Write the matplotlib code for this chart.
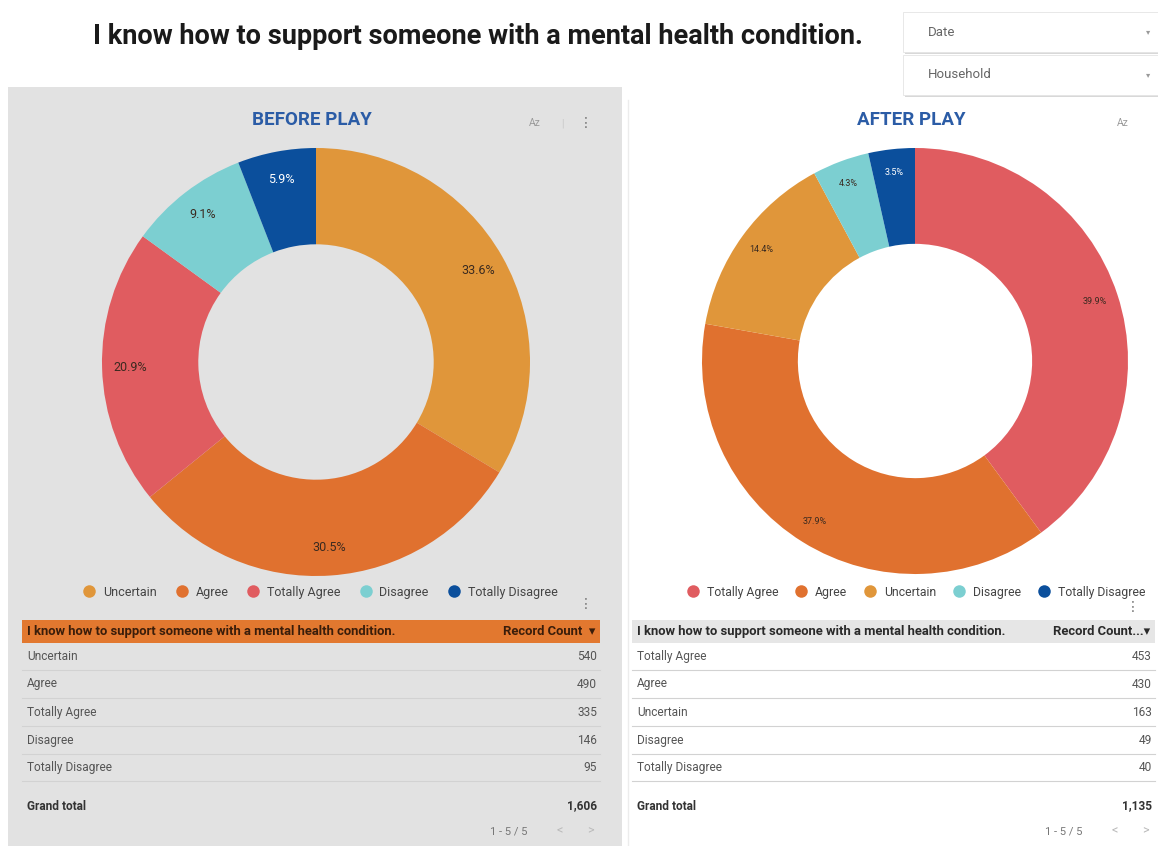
import matplotlib
matplotlib.use("Agg")
import matplotlib.pyplot as plt
from matplotlib.patches import Rectangle
from matplotlib.lines import Line2D

plt.rcParams['font.family'] = ['Roboto', 'DejaVu Sans']

W, H = 1158, 846

question = "I know how to support someone with a mental health condition."

before_labels = ["Uncertain", "Agree", "Totally Agree", "Disagree", "Totally Disagree"]
before_counts = [540, 490, 335, 146, 95]

after_labels = ["Totally Agree", "Agree", "Uncertain", "Disagree", "Totally Disagree"]
after_counts = [453, 430, 163, 49, 40]

colors = {
    "Uncertain": "#e0963a",
    "Agree": "#e0712f",
    "Totally Agree": "#e05c60",
    "Disagree": "#7ccfd1",
    "Totally Disagree": "#0b4f9c",
}


def fx(x):
    return x / W


def fy(y):
    return 1 - y / H


def ptext(x, y, s, **kw):
    kw.setdefault("va", "center")
    fig.text(fx(x), fy(y), s, **kw)


def hline(x0, x1, y, color="#d2d2d2", lw=0.8):
    fig.add_artist(Line2D([fx(x0), fx(x1)], [fy(y), fy(y)], color=color, lw=lw,
                          transform=fig.transFigure))


def prect(x0, y0, x1, y1, **kw):
    fig.add_artist(Rectangle((fx(x0), fy(y1)), fx(x1) - fx(x0), fy(y0) - fy(y1),
                             transform=fig.transFigure, **kw))


fig = plt.figure(figsize=(W / 100, H / 100), dpi=100)
fig.patch.set_facecolor("white")

# grey card behind the "before" panel
prect(8, 87, 622, 846, facecolor="#e2e2e2", edgecolor="none", zorder=0)

ptext(478, 36, question, ha="center", fontsize=19.5, fontweight="bold", color="#1a1a1a")

# filter dropdowns
for y0, label in [(12, "Date"), (55, "Household")]:
    prect(905, y0 + 2, 1160, y0 + 42, facecolor="#d8d8d8", edgecolor="none", zorder=1)
    prect(903, y0, 1158, y0 + 40, facecolor="white", edgecolor="#e4e4e4", lw=0.6, zorder=2)
    ptext(928, y0 + 20, label, fontsize=9.5, color="#666666", zorder=3)
    ptext(1146, y0 + 20, "▾", fontsize=6, color="#9a9a9a", zorder=3)


def donut(cx, cy, r, labels, counts, title, pct_size, pct_dist):
    ax = fig.add_axes([fx(cx - r), fy(cy + r), 2 * r / W, 2 * r / H])
    ax.set_facecolor("none")
    wedges, _, autotexts = ax.pie(
        counts,
        colors=[colors[l] for l in labels],
        startangle=90,
        counterclock=False,
        radius=1,
        autopct="%1.1f%%",
        pctdistance=pct_dist,
        wedgeprops=dict(width=0.45, edgecolor="none"),
    )
    for t, l in zip(autotexts, labels):
        t.set_fontsize(pct_size)
        t.set_color("white" if l == "Totally Disagree" else "#3a2a20")
    ax.set_xlim(-1, 1)
    ax.set_ylim(-1, 1)
    ax.axis("off")
    ptext(cx - 4, 120, title, ha="center", fontsize=13.5, fontweight="bold", color="#2b5ca6")
    return wedges


donut(316, 362, 214, before_labels, before_counts, "BEFORE PLAY", 9, 0.87)
donut(915, 361, 213, after_labels, after_counts, "AFTER PLAY", 6.5, 0.89)

# toolbar icons
ptext(535, 123, "Az", fontsize=7.5, color="#9a9a9a", ha="center")
ptext(562, 123, "|", fontsize=7, color="#c8c8c8", ha="center")
ptext(586, 123, "⋮", fontsize=10, color="#777777", ha="center")
ptext(1123, 123, "Az", fontsize=7.5, color="#9a9a9a", ha="center")


def legend(cx, labels, size, spacing):
    handles = [Line2D([], [], marker="o", ls="none", markersize=9,
                      markerfacecolor=colors[l], markeredgecolor="none") for l in labels]
    fig.legend(handles, labels, loc="center", bbox_to_anchor=(fx(cx), fy(592)), ncol=5,
               frameon=False, fontsize=size, handletextpad=0.1, columnspacing=spacing,
               labelcolor="#444444")


legend(317, before_labels, 9.0, 1.0)
legend(913, after_labels, 8.8, 0.9)


def table(x0, x1, labels, counts, header_bg, header_fg, count_head):
    prect(x0, 620, x1, 643, facecolor=header_bg, edgecolor="none", zorder=1)
    ptext(x0 + 5, 631.5, question, fontsize=9.4, fontweight="bold", color=header_fg, zorder=2)
    ptext(x1 - 5, 631.5, count_head, fontsize=9.4, fontweight="bold", color=header_fg,
          ha="right", zorder=2)
    rows_y = [656, 684, 712, 740, 767]
    for yy, l, c in zip(rows_y, labels, counts):
        ptext(x0 + 5, yy, l, fontsize=8.6, color="#555555")
        ptext(x1 - 3, yy, str(c), fontsize=8.6, color="#555555", ha="right")
        hline(x0, x1, yy + 14)
    ptext(x0 + 5, 806, "Grand total", fontsize=8.6, fontweight="bold", color="#333333")
    ptext(x1 - 3, 806, f"{sum(counts):,}", fontsize=8.6, fontweight="bold", color="#333333",
          ha="right")
    ptext(x1 - 110, 831, f"1 - {len(counts)} / {len(counts)}", fontsize=8, color="#777777")
    ptext(x1 - 40, 831, "<", fontsize=9, color="#bbbbbb", ha="center")
    ptext(x1 - 10, 831, ">", fontsize=9, color="#bbbbbb", ha="center")


table(22, 600, before_labels, before_counts, "#e2782f", "#3a1d0a", "Record Count  ▾")
table(632, 1155, after_labels, after_counts, "#e6e6e6", "#2a2a2a", "Record Count...▾")
ptext(586, 604, "⋮", fontsize=10, color="#777777", ha="center")
ptext(1133, 607, "⋮", fontsize=10, color="#777777", ha="center")

# faint divider on the left edge of the "after" card
fig.add_artist(Line2D([fx(628), fx(628)], [fy(100), fy(846)], color="#ececec", lw=1,
                      transform=fig.transFigure))

fig.savefig("out.png", dpi=100)
